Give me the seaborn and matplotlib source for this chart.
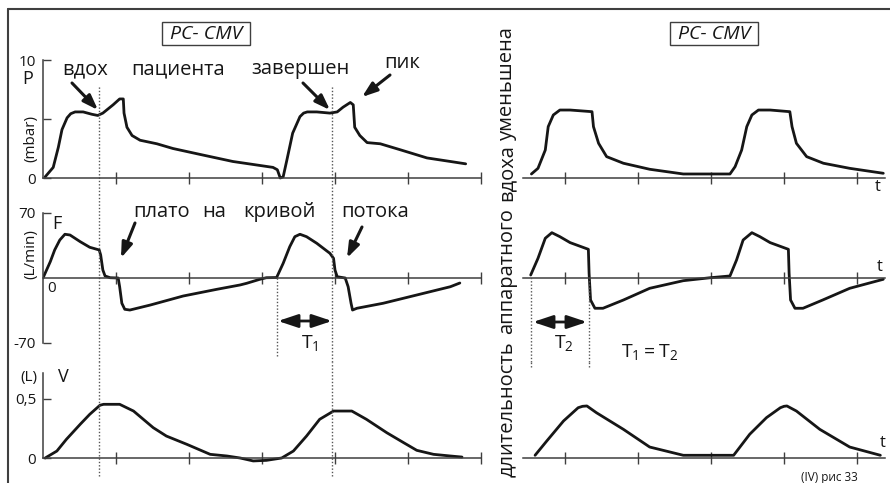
import matplotlib
matplotlib.use("Agg")
import matplotlib.pyplot as plt
from matplotlib.lines import Line2D
from matplotlib.patches import Rectangle
import seaborn as sns

# ---------------- curve data (time in tick units) ----------------
# PC-CMV, patient ends inspiration early (left)
p_left_t = [0.03, 0.14, 0.21, 0.26, 0.33, 0.38, 0.44, 0.55, 0.67, 0.75, 0.82, 0.96, 1.05, 1.10, 1.11,
            1.15, 1.22, 1.33, 1.56, 1.78, 2.15, 2.60, 2.93, 3.15, 3.21, 3.25, 3.29, 3.34, 3.42,
            3.52, 3.57, 3.62, 3.75, 3.93, 4.03, 4.11, 4.21, 4.25, 4.27, 4.34, 4.44, 4.62, 4.89, 5.26,
            5.58, 5.79]
p_left = [0.1, 0.9, 2.6, 4.1, 5.1, 5.45, 5.6, 5.6, 5.4, 5.3, 5.5, 6.2, 6.7, 6.7, 5.5,
          4.3, 3.6, 3.2, 2.9, 2.5, 2.0, 1.4, 1.1, 0.9, 0.7, 0.0, 0.1, 1.5, 3.8,
          5.2, 5.5, 5.6, 5.6, 5.5, 5.6, 6.0, 6.4, 6.2, 4.3, 3.6, 3.0, 2.9, 2.4, 1.7,
          1.4, 1.2]

f_left_t = [0.00, 0.10, 0.16, 0.23, 0.30, 0.37, 0.51, 0.64, 0.77, 0.79, 0.82, 0.85, 0.92, 1.03,
            1.05, 1.08, 1.12, 1.19, 1.47, 1.92, 2.38, 2.70, 2.79, 2.97, 3.06, 3.20, 3.29, 3.38,
            3.45, 3.52, 3.61, 3.75, 3.93, 3.98, 4.00, 4.03, 4.14, 4.18, 4.22, 4.24, 4.30, 4.66,
            5.12, 5.58, 5.71]
f_left = [0, 17.6, 30.2, 40.9, 47.1, 46.3, 39.1, 33.1, 30.2, 24.8, 8.6, 2.2, 0.3, 0,
          -9.4, -27.2, -33.7, -34.5, -29.1, -19.4, -12.2, -7.5, -5.7, -1.4, 0.3, 0.5, 15.8, 33.7,
          44.5, 47.1, 44.5, 37.4, 26.6, 21.2, 8.6, 1.4, 0, -9.4, -27.2, -34.5, -32.6, -27.2,
          -18.3, -9.4, -5.4]

v_left_t = [0.03, 0.19, 0.32, 0.51, 0.64, 0.78, 0.83, 1.05, 1.24, 1.51, 1.69, 1.97, 2.29, 2.52,
            2.70, 2.88, 3.06, 3.27, 3.43, 3.61, 3.79, 3.98, 4.23, 4.43, 4.71, 4.94, 5.12, 5.35,
            5.58, 5.74]
v_left = [0.0, 0.059, 0.158, 0.286, 0.37, 0.447, 0.455, 0.455, 0.398, 0.257, 0.186, 0.116, 0.031, 0.017,
          0.0, -0.025, -0.02, 0.0, 0.059, 0.186, 0.328, 0.398, 0.398, 0.328, 0.214, 0.13, 0.065, 0.031,
          0.017, 0.008]

# PC-CMV, shortened machine inspiration (right)
p_right_t = [0.54, 0.63, 0.73, 0.77, 0.84, 0.93, 1.07, 1.37, 1.39, 1.46, 1.57, 1.80, 2.16, 2.62,
             3.26, 3.33, 3.42, 3.49, 3.56, 3.65, 3.81, 4.08, 4.11, 4.17, 4.31, 4.54, 4.90, 5.36]
p_right = [0.34, 0.82, 2.37, 4.35, 5.34, 5.76, 5.76, 5.62, 4.35, 2.94, 1.81, 1.25, 0.74, 0.34,
           0.34, 0.96, 2.37, 4.35, 5.34, 5.76, 5.76, 5.62, 4.35, 2.94, 1.81, 1.25, 0.82, 0.4]

f_right_t = [0.53, 0.63, 0.73, 0.82, 0.93, 1.07, 1.32, 1.33, 1.35, 1.41, 1.52, 1.80, 2.16, 2.62,
             2.99, 3.26, 3.35, 3.44, 3.56, 3.67, 3.81, 4.06, 4.07, 4.09, 4.15, 4.26, 4.53, 4.90, 5.36]
f_right = [3.2, 21.2, 42.8, 48.8, 44.5, 38.1, 30.9, 5.1, -23.7, -32.6, -32.6, -23.7, -11.1, -2.9,
           0.3, 2.2, 19.4, 40.9, 48.8, 44.5, 38.1, 30.9, 5.1, -23.7, -32.6, -32.6, -23.7, -11.1, -1.4]

v_right_t = [0.59, 0.75, 0.98, 1.18, 1.24, 1.30, 1.43, 1.80, 2.16, 2.62, 3.31, 3.53, 3.76, 3.95,
             4.00, 4.04, 4.17, 4.49, 4.90, 5.32]
v_right = [0.023, 0.144, 0.314, 0.426, 0.438, 0.441, 0.384, 0.243, 0.093, 0.023, 0.023, 0.201, 0.342, 0.426,
           0.438, 0.441, 0.398, 0.243, 0.093, 0.023]

# y ticks of the left-hand scales
p_ticks, p_labels = [0, 5, 10], ["0", "", "10"]
f_ticks, f_labels = [-70, 70], ["-70", "70"]
v_ticks, v_labels = [0, 0.5], ["0", "0,5"]

# ---------------- style ----------------
sns.set_theme(style="white")
plt.rcParams["font.family"] = ["Open Sans", "DejaVu Sans"]
plt.rcParams["mathtext.fontset"] = "custom"
plt.rcParams["mathtext.rm"] = "Open Sans"
plt.rcParams["mathtext.it"] = "Open Sans:italic"

INK = "#161616"
AXC = "#3f3f3f"
W, H = 890, 483
fig = plt.figure(figsize=(W / 100, H / 100), dpi=100)
fig.patch.set_facecolor("white")


def fx(x):
    return x / W


def fy(y):
    return 1 - y / H


def panel(x0, x1, y0, y1, x_org, x_scale, y_org, y_scale):
    """Axes placed on a pixel box; data = (px - origin) / scale."""
    ax = fig.add_axes([fx(x0), fy(y1), (x1 - x0) / W, (y1 - y0) / H])
    ax.set_xlim((x0 - x_org) / x_scale, (x1 - x_org) / x_scale)
    ax.set_ylim((y_org - y1) / y_scale, (y_org - y0) / y_scale)
    ax.patch.set_alpha(0)
    ax.grid(False)
    ax.spines[["top", "right"]].set_visible(False)
    ax.spines["bottom"].set_position(("data", 0))
    for s in ("left", "bottom"):
        ax.spines[s].set_color(AXC)
        ax.spines[s].set_linewidth(1.1)
    ax.tick_params(axis="x", direction="inout", length=9, width=1.0, color=AXC,
                   labelbottom=False, bottom=True)
    ax.meta = (y0, y1, y_org, y_scale)
    return ax


ROWS = [(40, 195, 178, 11.8), (195, 362, 278, 65 / 70), (362, 483, 458, 118.0)]
LX = (43, 490, 43, 73.0)
RX = (492, 890, 492, 73.0)

left = [panel(LX[0], LX[1], r[0], r[1], LX[2], LX[3], r[2], r[3]) for r in ROWS]
right = [panel(RX[0], RX[1], r[0], r[1], RX[2], RX[3], r[2], r[3]) for r in ROWS]

curves_left = [(p_left_t, p_left), (f_left_t, f_left), (v_left_t, v_left)]
curves_right = [(p_right_t, p_right), (f_right_t, f_right), (v_right_t, v_right)]
for ax, (t, y) in zip(left + right, curves_left + curves_right):
    sns.lineplot(x=t, y=y, ax=ax, color=INK, lw=2.0, sort=False, estimator=None,
                 solid_joinstyle="round", solid_capstyle="round")

# left scales
for ax, ticks, labels, top in zip(left, [p_ticks, f_ticks, v_ticks],
                                  [p_labels, f_labels, v_labels], [10, 70, 0.72]):
    ax.set_xticks(range(1, 7))
    ax.spines["bottom"].set_bounds(0, 6.0)
    ax.spines["left"].set_bounds(min(ticks), top)
    ax.set_yticks(ticks, labels)
    ax.tick_params(axis="y", direction="in", length=6, width=1.0, color=AXC,
                   labelsize=11, pad=5, labelcolor=INK, left=True)
    ax.set_xlabel("")
    ax.set_ylabel("")

# right: time axis only
for ax in right:
    ax.set_xticks(range(1, 6))
    ax.spines["left"].set_visible(False)
    ax.spines["bottom"].set_bounds(0.42, 5.38)
    ax.set_yticks([])
    ax.set_xlabel("")
    ax.set_ylabel("")


def guide(axes, t, ytop, ybot):
    for ax in axes:
        y0, y1, yorg, ysc = ax.meta
        a, b = max(ytop, y0), min(ybot, y1)
        if a < b:
            ax.vlines(t, (yorg - b) / ysc, (yorg - a) / ysc, colors="#555555",
                      linewidth=1.0, linestyles=(0, (1, 1.4)), clip_on=False)


guide(left, 0.77, 86, 476)
guide(left, 3.96, 85, 476)
guide(left, 3.205, 278, 356)
guide(right, 0.534, 278, 367)
guide(right, 1.329, 278, 367)


def label(x, y, s, **kw):
    kw.setdefault("color", INK)
    fig.text(fx(x), fy(y), s, **kw)


def arrow(x0, y0, x1, y1, style, lw=2.2):
    left[0].annotate("", xy=(x1, H - y1), xycoords="figure pixels",
                     xytext=(x0, H - y0), textcoords="figure pixels",
                     arrowprops=dict(arrowstyle=style, color=INK, lw=lw,
                                     shrinkA=0, shrinkB=0, mutation_scale=10),
                     annotation_clip=False)


# outer frame
fig.add_artist(Line2D([fx(8), fx(890)], [fy(9), fy(9)], color=AXC, lw=1.5))
fig.add_artist(Line2D([fx(8), fx(8)], [fy(9), fy(483)], color=AXC, lw=1.5))

# mode boxes
for cx, x0, x1 in [(206, 162, 250), (714, 670, 758)]:
    fig.add_artist(Rectangle((fx(x0), fy(45)), (x1 - x0) / W, 23 / H,
                             transform=fig.transFigure, fill=False, ec=AXC, lw=1.0))
    label(cx, 34, "PC- CMV", fontsize=14, style="italic", ha="center", va="center")

# scale captions
label(28, 79, "P", fontsize=13, ha="center", va="center")
label(31, 139, "(mbar)", fontsize=11, rotation=90, ha="center", va="center")
label(57, 224, "F", fontsize=13, ha="center", va="center")
label(31, 254, "(L/min)", fontsize=11, rotation=90, ha="center", va="center")
label(52, 288, "0", fontsize=11, ha="center", va="center")
label(29, 377, "(L)", fontsize=11, ha="center", va="center")
label(63, 377, "V", fontsize=13, ha="center", va="center")

# annotations
FS = 14.5
for cx, word in [(85, "вдох"), (178, "пациента"), (300, "завершен")]:
    label(cx, 74, word, fontsize=FS, ha="center", va="baseline")
label(402, 68, "пик", fontsize=FS, ha="center", va="baseline")
for cx, word in [(162, "плато"), (214, "на"), (279, "кривой"), (375, "потока")]:
    label(cx, 217, word, fontsize=FS, ha="center", va="baseline")

head = "-|>,head_length=0.9,head_width=0.32"
arrow(72, 83, 98, 110, head)
arrow(303, 83, 330, 110, head)
arrow(390, 75, 362, 97, head)
arrow(135, 223, 121, 258, head)
arrow(362, 227, 347, 258, head)

dbl = "<|-|>,head_length=1.2,head_width=0.4"
arrow(278, 321, 332, 321, dbl, lw=2.0)
arrow(533, 322, 587, 322, dbl, lw=2.0)
label(310, 343, r"$\mathrm{T}_1$", fontsize=14, ha="center", va="center")
label(564, 343, r"$\mathrm{T}_2$", fontsize=14, ha="center", va="center")
label(650, 352, r"$\mathrm{T}_1 = \mathrm{T}_2$", fontsize=14, ha="center", va="center")

# vertical caption between the panels
for cy, word in [(83, "уменьшена"), (173, "вдоха"), (271, "аппаратного"), (409, "длительность")]:
    fig.text(fx(512), fy(cy), word, fontsize=FS, rotation=90, rotation_mode="anchor",
             ha="center", va="baseline", color=INK)

# time labels
label(878, 187, "t", fontsize=12, ha="center", va="center")
label(880, 267, "t", fontsize=12, ha="center", va="center")
label(883, 443, "t", fontsize=12, ha="center", va="center")

label(829, 477, "(IV) рис 33", fontsize=8.5, ha="center", va="center")

fig.savefig("out.png", dpi=100, facecolor="white")
